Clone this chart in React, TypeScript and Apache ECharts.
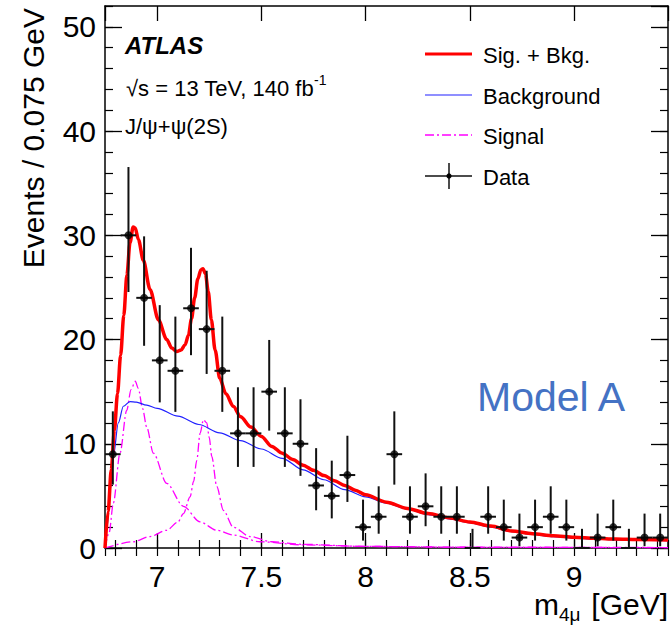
import React, { useEffect, useRef } from "react";
import * as echarts from "echarts";

// ---- Data ----
const binCenters = [
  6.7875, 6.8625, 6.9375, 7.0125, 7.0875, 7.1625, 7.2375, 7.3125, 7.3875, 7.4625,
  7.5375, 7.6125, 7.6875, 7.7625, 7.8375, 7.9125, 7.9875, 8.0625, 8.1375, 8.2125,
  8.2875, 8.3625, 8.4375, 8.5125, 8.5875, 8.6625, 8.7375, 8.8125, 8.8875, 8.9625,
  9.0375, 9.1125, 9.1875, 9.2625, 9.3375, 9.4125,
];
const binWidth = 0.075;
const counts = [
  9, 30, 24, 18, 17, 23, 21, 17, 11, 11, 15, 11, 10, 6, 5, 7, 2, 3, 9, 3, 4, 3, 3, 0,
  3, 2, 1, 2, 3, 2, 0, 1, 2, 0, 1, 1,
];
const errLow = [
  6.08, 24.56, 19.4, 13.97, 13.06, 18.5, 16.7, 13.06, 7.78, 7.78, 11.26, 7.78, 6.92,
  3.62, 2.84, 4.42, 0.71, 1.37, 6.08, 1.37, 2.09, 1.37, 1.37, 0, 1.37, 0.71, 0.17,
  0.71, 1.37, 0.71, 0, 0.17, 0.71, 0, 0.17, 0.17,
];
const errHigh = [
  13.11, 36.55, 29.9, 23.3, 22.2, 28.8, 26.6, 22.2, 15.42, 15.42, 19.96, 15.42, 14.27,
  9.58, 8.38, 10.77, 4.64, 5.92, 13.11, 5.92, 7.16, 5.92, 5.92, 1.84, 5.92, 4.64, 3.3,
  4.64, 5.92, 4.64, 1.84, 3.3, 4.64, 1.84, 3.3, 3.3,
];

const sigBkgX = [
  6.75, 6.765, 6.78, 6.795, 6.81, 6.825, 6.84, 6.855, 6.87, 6.885, 6.895, 6.91, 6.934,
  6.966, 7.006, 7.046, 7.07, 7.094, 7.115, 7.134, 7.15, 7.165, 7.18, 7.195, 7.21, 7.22,
  7.232, 7.245, 7.26, 7.278, 7.3, 7.33, 7.365, 7.4, 7.45, 7.5, 7.55, 7.6, 7.65, 7.7,
  7.75, 7.8, 7.85, 7.9, 7.95, 8.0, 8.1, 8.2, 8.3, 8.4, 8.5, 8.6, 8.7, 8.8, 8.9, 9.0,
  9.1, 9.2, 9.3, 9.45,
];
const sigBkgY = [
  0, 3.5, 7.5, 11.3, 14.8, 18.5, 22.3, 26.2, 29.3, 30.8, 30.7, 29.6, 27.6, 24.8, 21.9,
  20.0, 19.2, 18.85, 19.0, 19.5, 20.4, 22.0, 24.0, 25.8, 26.7, 26.8, 26.3, 24.6, 21.9,
  19.0, 16.3, 14.8, 13.6, 12.6, 11.6, 10.7, 9.75, 9.1, 8.5, 7.95, 7.45, 6.95, 6.45,
  6.0, 5.55, 5.1, 4.4, 3.8, 3.3, 2.9, 2.5, 2.1, 1.64, 1.37, 1.17, 1.03, 0.93, 0.86,
  0.81, 0.77,
];
const bkgX = [
  6.75, 6.76, 6.775, 6.79, 6.814, 6.838, 6.87, 6.9, 6.95, 7.0, 7.1, 7.2, 7.3, 7.4, 7.5,
  7.6, 7.7, 7.8, 7.9, 8.0, 8.1, 8.2, 8.3, 8.4, 8.5, 8.6, 8.7, 8.8, 8.9, 9.0, 9.1, 9.2,
  9.3, 9.45,
];
const bkgY = [
  0, 2.0, 5.5, 8.8, 12.0, 13.6, 14.05, 14.0, 13.7, 13.4, 12.65, 11.85, 11.05, 10.3,
  9.5, 8.6, 7.5, 6.55, 5.6, 4.9, 4.3, 3.72, 3.2, 2.8, 2.42, 2.0, 1.58, 1.3, 1.08, 0.94,
  0.85, 0.78, 0.73, 0.7,
];
const sig1X = [
  6.75, 6.77, 6.79, 6.822, 6.854, 6.875, 6.895, 6.91, 6.93, 6.95, 6.982, 7.046, 7.126,
  7.206, 7.286, 7.365, 7.493, 7.7, 8.0, 8.5, 9.45,
];
const sig1Y = [
  0, 1.5, 4.3, 9.1, 13.2, 15.2, 16.0, 15.3, 13.4, 11.6, 9.1, 6.2, 4.0, 2.5, 1.7, 1.25,
  0.6, 0.3, 0.15, 0.08, 0.04,
];
const sig2X = [
  6.75, 6.886, 6.966, 7.046, 7.1, 7.126, 7.158, 7.175, 7.19, 7.206, 7.222, 7.238, 7.25,
  7.262, 7.286, 7.318, 7.365, 7.445, 7.55, 7.7, 8.0, 8.5, 9.45,
];
const sig2Y = [
  0, 0.6, 1.1, 1.7, 2.5, 3.3, 4.9, 6.4, 8.4, 11.0, 12.3, 12.0, 10.6, 8.8, 5.9, 3.6, 2.0,
  1.1, 0.6, 0.35, 0.15, 0.07, 0.03,
];

const xMin = 6.75;
const xMax = 9.45;
const yMin = 0;
const yMax = 52;

const FONT = "'Liberation Sans', Arial, Helvetica, sans-serif";

const zip = (xs: number[], ys: number[]) => xs.map((x, i) => [x, ys[i]]);

function buildOption(): any {
  const black = "#000";
  const frameLine = { show: true, onZero: false, lineStyle: { color: black, width: 1.5 } };
  const noLine = { show: false };
  const majorX = (position: string, labels: boolean) => ({
    type: "value",
    min: xMin,
    max: xMax,
    splitNumber: 5,
    position,
    axisLine: frameLine,
    axisTick: { show: true, inside: true, length: 15, lineStyle: { color: black, width: 1.3 } },
    axisLabel: {
      show: labels,
      fontSize: 30,
      color: black,
      fontFamily: FONT,
      margin: 13,
      showMinLabel: false,
      showMaxLabel: false,
      formatter: (v: number) =>
        Math.abs(v * 2 - Math.round(v * 2)) < 1e-6 ? String(v) : "",
    },
    splitLine: { show: false },
  });
  const minorX = (position: string) => ({
    type: "value",
    min: xMin,
    max: xMax,
    splitNumber: 25,
    position,
    axisLine: noLine,
    axisTick: { show: true, inside: true, length: 8, lineStyle: { color: black, width: 1.2 } },
    axisLabel: { show: false },
    splitLine: { show: false },
  });
  const majorY = (position: string, labels: boolean) => ({
    type: "value",
    min: yMin,
    max: yMax,
    interval: 10,
    position,
    axisLine: frameLine,
    axisTick: { show: true, inside: true, length: 17, lineStyle: { color: black, width: 1.3 } },
    axisLabel: {
      show: labels,
      fontSize: 30,
      color: black,
      fontFamily: FONT,
      margin: 9,
      showMaxLabel: false,
      formatter: (v: number) => (v % 10 === 0 ? String(v) : ""),
    },
    splitLine: { show: false },
  });
  const minorY = (position: string) => ({
    type: "value",
    min: yMin,
    max: yMax,
    interval: 2,
    position,
    axisLine: noLine,
    axisTick: { show: true, inside: true, length: 8, lineStyle: { color: black, width: 1.2 } },
    axisLabel: { show: false },
    splitLine: { show: false },
  });

  const errData = binCenters.map((c, i) => [c, errLow[i], errHigh[i], counts[i]]);
  const pointData = binCenters
    .map((c, i) => [c, counts[i]])
    .filter((p) => p[1] > 0);

  const curve = (name: string, xs: number[], ys: number[], lineStyle: any, z: number) => ({
    name,
    type: "line",
    xAxisIndex: 0,
    yAxisIndex: 0,
    data: zip(xs, ys),
    showSymbol: false,
    symbol: "none",
    smooth: 0.3,
    smoothMonotone: "x",
    silent: true,
    z,
    lineStyle,
  });

  const signalStyle = { color: "#ff00ff", width: 1.3, type: [9, 3, 2, 3] };

  const legendY = [54, 95, 135, 176];
  const graphic: any[] = [
    // legend
    { type: "line", shape: { x1: 425, y1: legendY[0], x2: 472, y2: legendY[0] }, style: { stroke: "#ff0000", lineWidth: 3 } },
    { type: "line", shape: { x1: 425, y1: legendY[1], x2: 472, y2: legendY[1] }, style: { stroke: "#2020ff", lineWidth: 1.2 } },
    { type: "line", shape: { x1: 425, y1: legendY[2], x2: 472, y2: legendY[2] }, style: { stroke: "#ff00ff", lineWidth: 1.3, lineDash: [9, 3, 2, 3] } },
    { type: "line", shape: { x1: 425, y1: legendY[3], x2: 472, y2: legendY[3] }, style: { stroke: "#111", lineWidth: 1.5 } },
    { type: "line", shape: { x1: 449, y1: legendY[3] - 13, x2: 449, y2: legendY[3] + 13 }, style: { stroke: "#111", lineWidth: 1.5 } },
    { type: "circle", shape: { cx: 449, cy: legendY[3], r: 2.6 }, style: { fill: "#000" } },
    ...["Sig. + Bkg.", "Background", "Signal", "Data"].map((t, i) => ({
      type: "text",
      x: 483,
      y: legendY[i] + 1,
      style: { text: t, fontSize: 22, fontFamily: FONT, fill: "#000", textVerticalAlign: "middle" },
    })),
    // labels
    {
      type: "text",
      x: 125,
      y: 45,
      style: { text: "ATLAS", fontSize: 24, fontWeight: "bold", fontStyle: "italic", fontFamily: FONT, fill: "#000", textVerticalAlign: "middle" },
    },
    {
      type: "text",
      x: 126,
      y: 86,
      style: {
        text: "{n|√s = 13 TeV, 140 fb}{s|-1}",
        fontFamily: FONT,
        textVerticalAlign: "middle",
        rich: {
          n: { fontSize: 22, fontFamily: FONT, fill: "#000", color: "#000", lineHeight: 26, verticalAlign: "bottom" },
          s: { fontSize: 14, fontFamily: FONT, fill: "#000", color: "#000", lineHeight: 26, verticalAlign: "top" },
        },
      },
    },
    {
      type: "text",
      x: 125,
      y: 126,
      style: { text: "J/ψ+ψ(2S)", fontSize: 22, fontFamily: FONT, fill: "#000", textVerticalAlign: "middle" },
    },
    {
      type: "text",
      x: 477,
      y: 397,
      style: { text: "Model A", fontSize: 41, fontFamily: FONT, fill: "#4472C4", textVerticalAlign: "middle" },
    },
    // axis titles
    {
      type: "text",
      x: 33,
      y: 8,
      rotation: Math.PI / 2,
      style: { text: "Events / 0.075 GeV", fontSize: 30, fontFamily: FONT, fill: "#000", textAlign: "right", textVerticalAlign: "middle" },
    },
    {
      type: "text",
      x: 668,
      y: 604,
      style: { text: "[GeV]", fontSize: 30, fontFamily: FONT, fill: "#000", textAlign: "right", textVerticalAlign: "middle" },
    },
    {
      type: "text",
      x: 534,
      y: 604,
      style: { text: "m", fontSize: 30, fontFamily: FONT, fill: "#000", textAlign: "left", textVerticalAlign: "middle" },
    },
    {
      type: "text",
      x: 559,
      y: 614,
      style: { text: "4μ", fontSize: 19, fontFamily: FONT, fill: "#000", textAlign: "left", textVerticalAlign: "middle" },
    },
  ];

  return {
    animation: false,
    backgroundColor: "#fff",
    textStyle: { fontFamily: FONT },
    grid: { left: 105, right: 4, top: 6, bottom: 79, containLabel: false },
    xAxis: [majorX("bottom", true), minorX("bottom"), majorX("top", false), minorX("top")],
    yAxis: [majorY("left", true), minorY("left"), majorY("right", false), minorY("right")],
    series: [
      curve("Signal", sig1X, sig1Y, signalStyle, 1),
      curve("Signal", sig2X, sig2Y, signalStyle, 1),
      curve("Background", bkgX, bkgY, { color: "#2020ff", width: 1.2 }, 2),
      curve("Sig. + Bkg.", sigBkgX, sigBkgY, { color: "#ff0000", width: 3.5 }, 3),
      {
        name: "DataErr",
        type: "custom",
        xAxisIndex: 0,
        yAxisIndex: 0,
        silent: true,
        z: 4,
        data: errData,
        renderItem: (_params: any, api: any) => {
          const c = api.value(0);
          const lo = api.coord([c, api.value(1)]);
          const hi = api.coord([c, api.value(2)]);
          const mid = api.coord([c, api.value(3)]);
          const half = api.size([binWidth, 0])[0] / 2;
          const st = { stroke: "#111", lineWidth: 2 };
          return {
            type: "group",
            children: [
              { type: "line", shape: { x1: lo[0], y1: lo[1], x2: hi[0], y2: hi[1] }, style: st },
              { type: "line", shape: { x1: mid[0] - half, y1: mid[1], x2: mid[0] + half, y2: mid[1] }, style: st },
            ],
          };
        },
      },
      {
        name: "Data",
        type: "scatter",
        xAxisIndex: 0,
        yAxisIndex: 0,
        data: pointData,
        symbol: "circle",
        symbolSize: 8,
        itemStyle: { color: "#000" },
        silent: true,
        z: 5,
      },
    ],
    graphic,
  };
}

export default function App() {
  const ref = useRef<HTMLDivElement>(null);
  useEffect(() => {
    if (!ref.current) return;
    const chart = echarts.init(ref.current, undefined, { renderer: "svg" });
    chart.setOption(buildOption());
    return () => chart.dispose();
  }, []);
  return (
    <div
      ref={ref}
      style={{ position: "fixed", left: 0, top: 0, width: 672, height: 627, background: "#fff" }}
    />
  );
}
